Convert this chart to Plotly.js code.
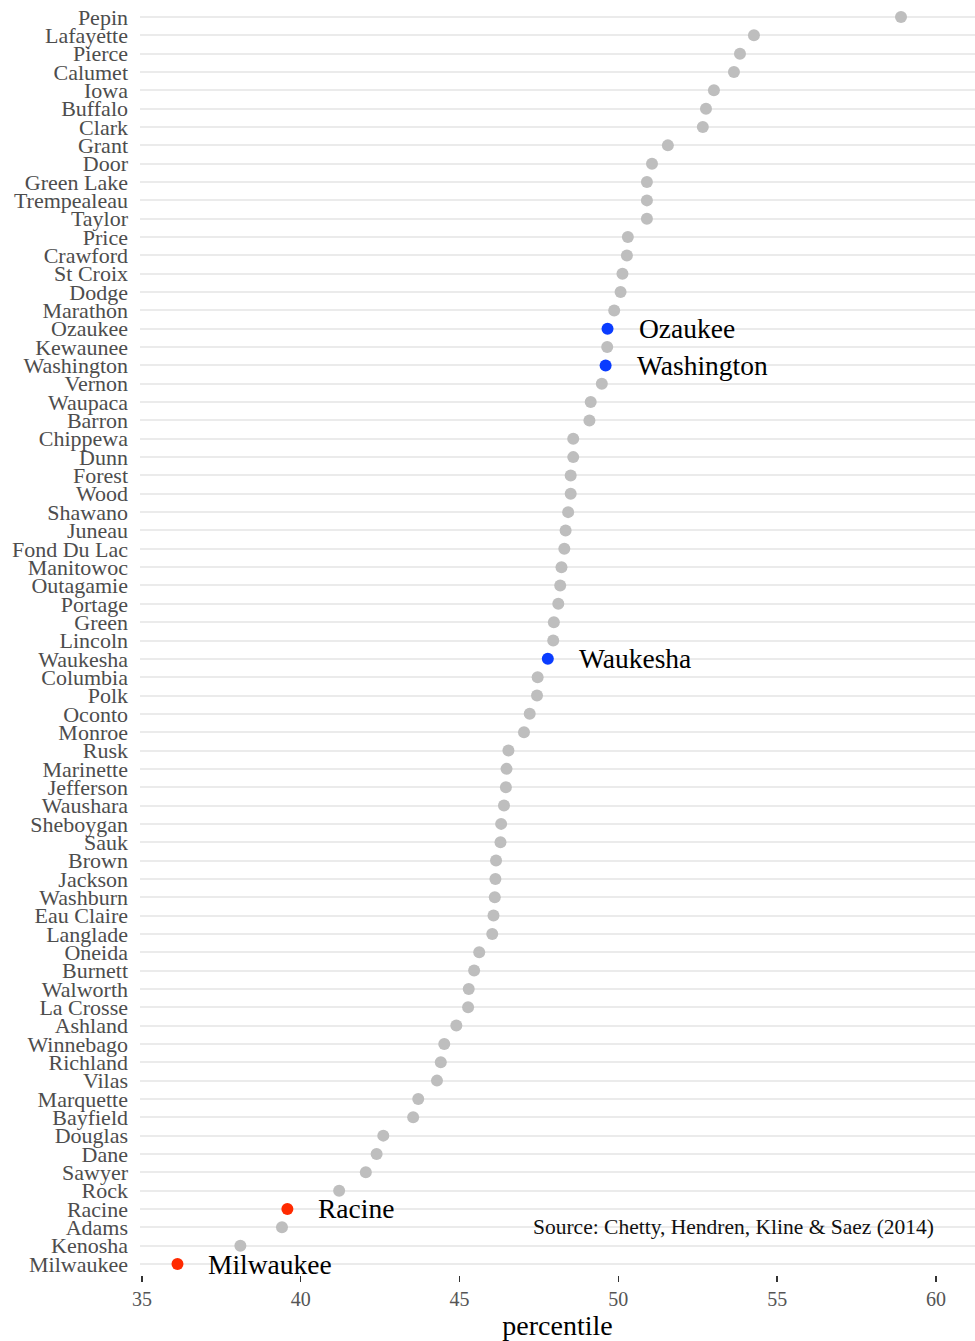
<!DOCTYPE html>
<html>
<head>
<meta charset="utf-8">
<script src="https://cdn.plot.ly/plotly-3.0.1.min.js"></script>
<style>html,body{margin:0;padding:0;background:#fff;}#chart{width:975px;height:1341px;}</style>
</head>
<body>
<div id="chart"></div>
<script>
// Counties, top to bottom (highest to lowest)
const counties = ["Pepin","Lafayette","Pierce","Calumet","Iowa","Buffalo","Clark","Grant","Door","Green Lake",
  "Trempealeau","Taylor","Price","Crawford","St Croix","Dodge","Marathon","Ozaukee","Kewaunee","Washington",
  "Vernon","Waupaca","Barron","Chippewa","Dunn","Forest","Wood","Shawano","Juneau","Fond Du Lac",
  "Manitowoc","Outagamie","Portage","Green","Lincoln","Waukesha","Columbia","Polk","Oconto","Monroe",
  "Rusk","Marinette","Jefferson","Waushara","Sheboygan","Sauk","Brown","Jackson","Washburn","Eau Claire",
  "Langlade","Oneida","Burnett","Walworth","La Crosse","Ashland","Winnebago","Richland","Vilas","Marquette",
  "Bayfield","Douglas","Dane","Sawyer","Rock","Racine","Adams","Kenosha","Milwaukee"];
const percentile = [58.90,54.27,53.83,53.64,53.01,52.76,52.66,51.56,51.06,50.90,
  50.90,50.90,50.30,50.27,50.13,50.07,49.87,49.66,49.65,49.60,
  49.48,49.13,49.09,48.58,48.58,48.50,48.50,48.42,48.34,48.30,
  48.21,48.17,48.11,47.97,47.95,47.78,47.46,47.44,47.21,47.03,
  46.54,46.48,46.46,46.40,46.31,46.29,46.15,46.13,46.11,46.07,
  46.03,45.62,45.46,45.29,45.27,44.90,44.52,44.41,44.29,43.70,
  43.54,42.60,42.39,42.05,41.21,39.58,39.41,38.10,36.12];
const blueCounties = ["Ozaukee","Washington","Waukesha"];
const redCounties = ["Racine","Milwaukee"];
const xTicks = [35,40,45,50,55,60];
const sourceText = "Source: Chetty, Hendren, Kline & Saez (2014)";

const FONT = "Liberation Serif, Times New Roman, serif";
const colors = counties.map(c => blueCounties.includes(c) ? "#0a3cff" : (redCounties.includes(c) ? "#ff2a00" : "#bebebe"));

const trace = {
  type: "scatter", mode: "markers",
  x: percentile, y: counties,
  marker: {size: 12, color: colors, line: {width: 0}},
  hoverinfo: "x+y", showlegend: false
};

const annotations = blueCounties.concat(redCounties).map(c => ({
  x: percentile[counties.indexOf(c)], y: c, xref: "x", yref: "y",
  text: c, showarrow: false, xanchor: "left", yanchor: "middle", xshift: 29,
  font: {family: FONT, size: 27.5, color: "#000"}
}));
annotations.push({
  x: 60, y: "Adams", xref: "x", yref: "y", text: sourceText, showarrow: false,
  xanchor: "right", yanchor: "middle", font: {family: FONT, size: 21.5, color: "#111"}
});

const yOrder = counties.slice().reverse();

const layout = {
  width: 975, height: 1341,
  margin: {l: 140, r: 0, t: 6, b: 66},
  paper_bgcolor: "#fff", plot_bgcolor: "#fff",
  font: {family: FONT},
  xaxis: {
    range: [34.94, 61.23], tickvals: xTicks, ticktext: xTicks.map(String),
    showgrid: false, zeroline: false, showline: false,
    ticks: "outside", ticklen: 6, tickwidth: 1.5, tickcolor: "#333",
    tickfont: {family: FONT, size: 20, color: "#555"},
    title: {text: "percentile", font: {family: FONT, size: 28, color: "#000"}, standoff: 6}
  },
  yaxis: {
    type: "category", categoryorder: "array", categoryarray: yOrder,
    tickmode: "array", tickvals: yOrder, ticktext: yOrder,
    range: [-0.6, counties.length - 0.4],
    showgrid: true, gridcolor: "#ebebeb", gridwidth: 2,
    zeroline: false, showline: false, ticks: "",
    ticklabelstandoff: 11,
    tickfont: {family: FONT, size: 22, color: "#4d4d4d"}
  },
  annotations: annotations
};

Plotly.newPlot("chart", [trace], layout, {displayModeBar: false, staticPlot: true});
</script>
</body>
</html>
